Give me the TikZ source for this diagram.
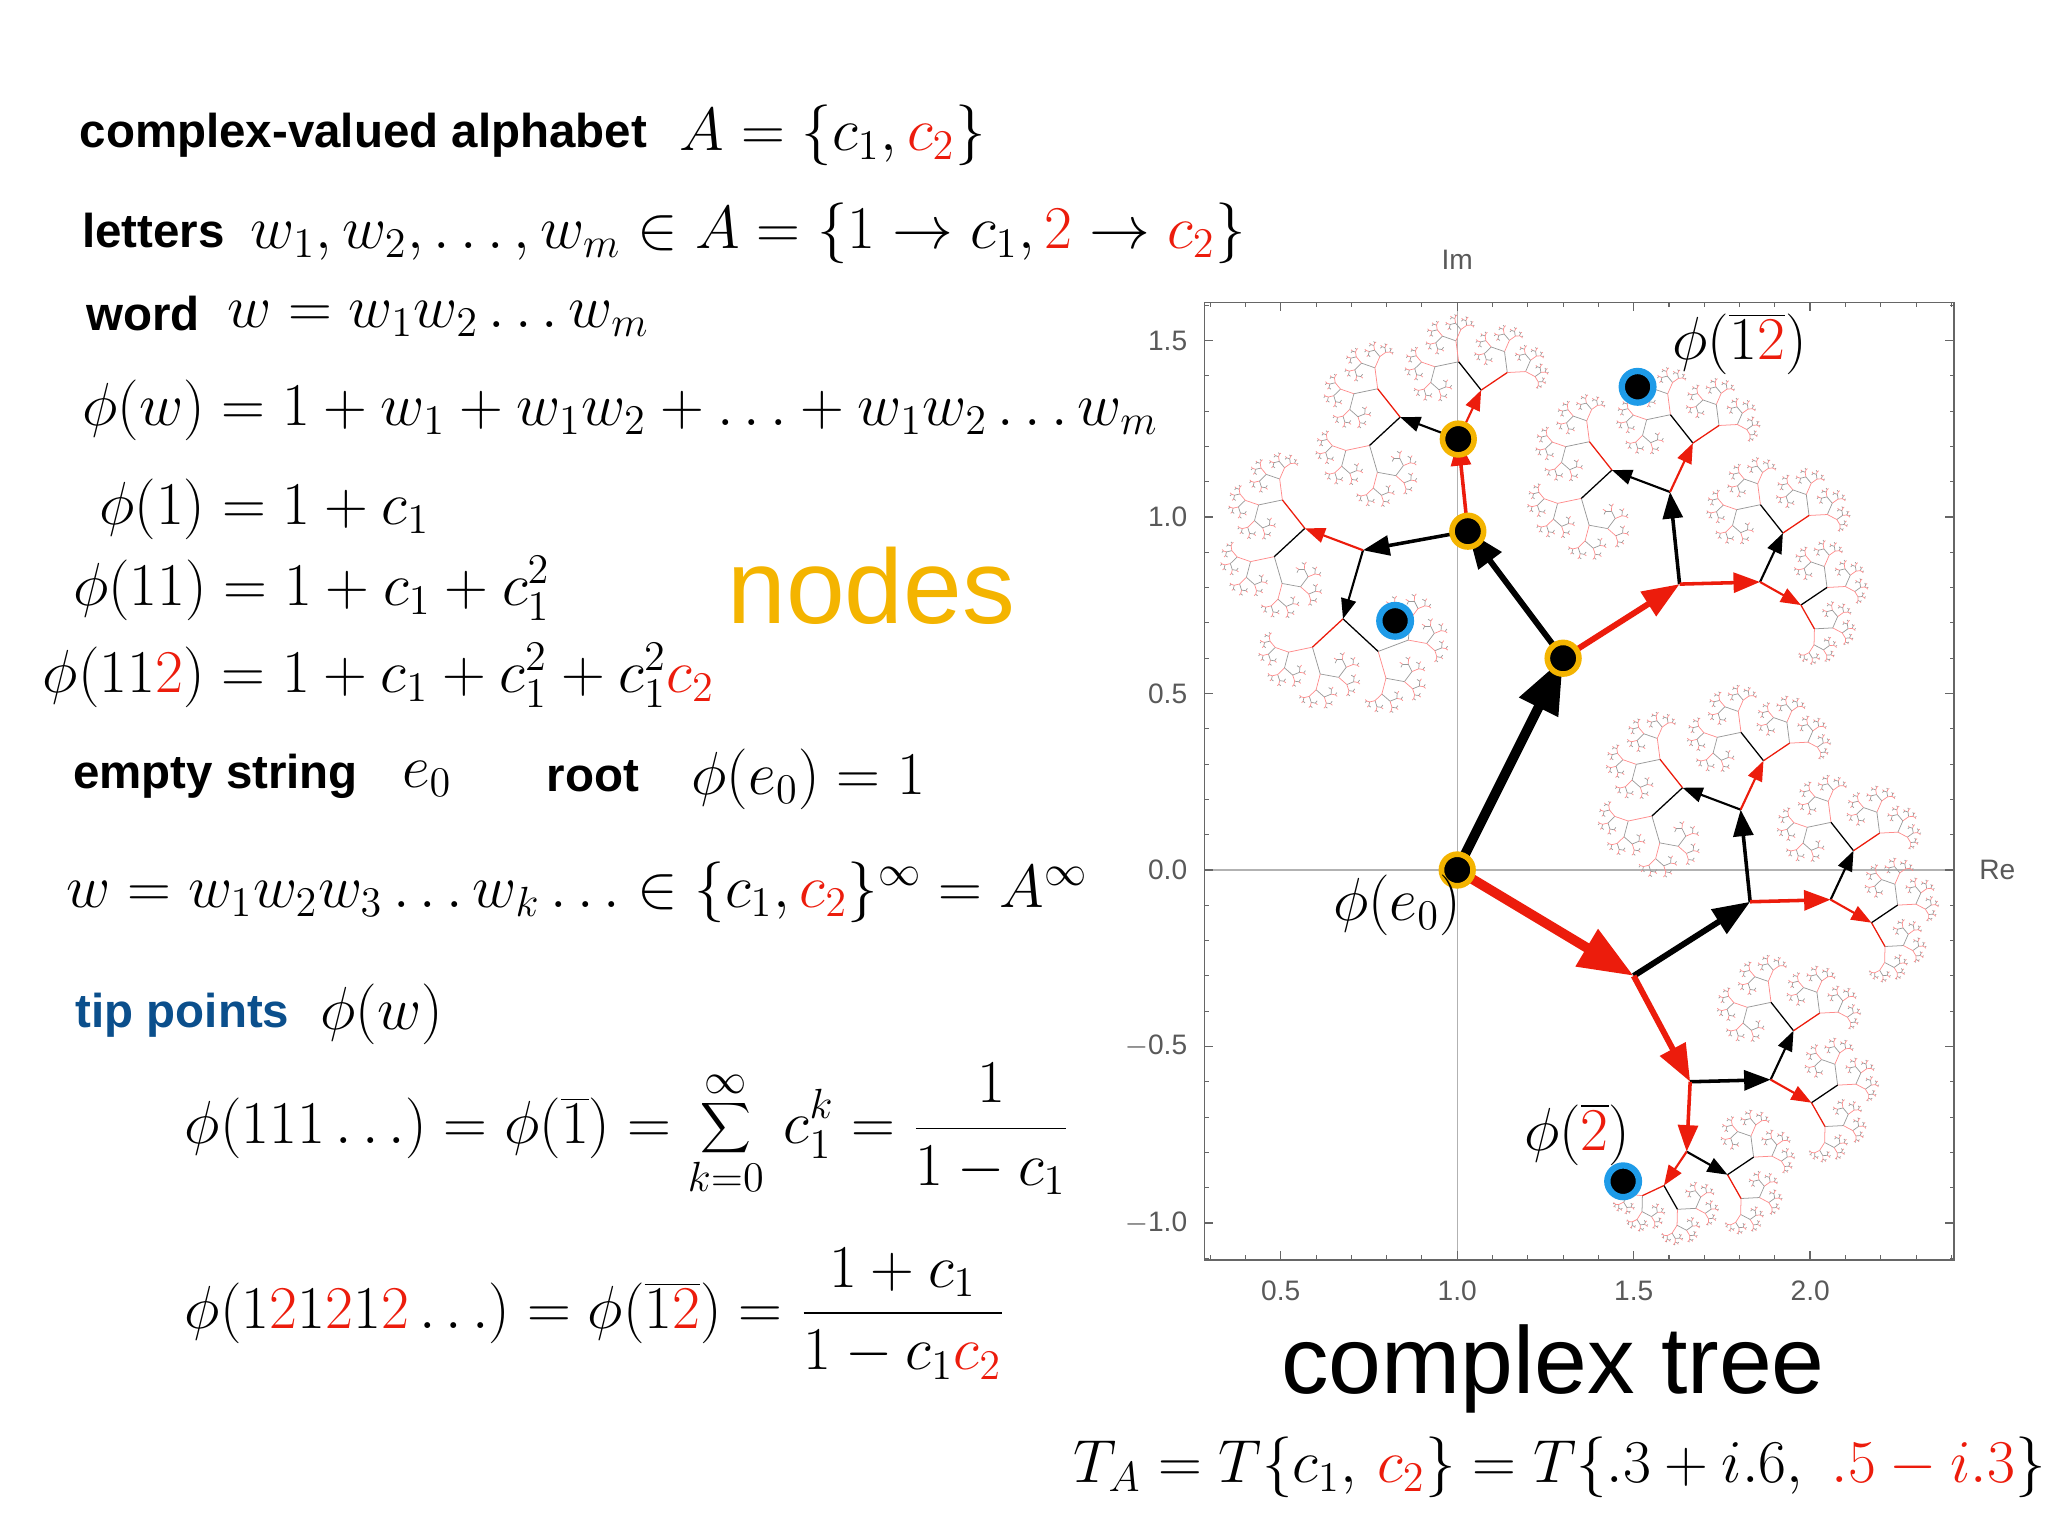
\documentclass[tikz,border=0pt]{standalone}
\usepackage{fontspec}
\setsansfont{Liberation Sans}
\usetikzlibrary{arrows.meta}
\definecolor{treered}{HTML}{EC1C0C}
\definecolor{nodeor}{HTML}{F4B400}
\definecolor{tipblue}{HTML}{0B4F8C}
\definecolor{dotblue}{HTML}{1E9BE8}
\newcommand\maxlev{11}
\newcommand\mybranch[5]{%
\ifnum#5<\maxlev\relax
\begingroup
\pgfmathsetmacro\pa{#3*0.3-#4*0.6}\pgfmathsetmacro\pb{#3*0.6+#4*0.3}%
\pgfmathsetmacro\qa{#3*0.5+#4*0.3}\pgfmathsetmacro\qb{-#3*0.3+#4*0.5}%
\pgfmathsetmacro\ax{#1+\pa}\pgfmathsetmacro\ay{#2+\pb}%
\pgfmathsetmacro\bx{#1+\qa}\pgfmathsetmacro\by{#2+\qb}%
\edef\next{\noexpand\mybranch{\ax}{\ay}{\pa}{\pb}{\the\numexpr#5+1\relax}\noexpand\mybranch{\bx}{\by}{\qa}{\qb}{\the\numexpr#5+1\relax}}%
\next
\ifnum#5>4 \def\kc{black!40}\def\rc{red!45}\else\def\kc{black}\def\rc{treered}\fi
\pgfmathsetmacro\lw{max(0.2,2.8*0.6^#5)}%
\ifnum#5<4 \def\arr{-{Stealth[inset=0pt]}}\else\def\arr{-}\fi
\draw[line width=\lw pt,\kc,\arr] (#1,#2) -- (\ax,\ay);
\draw[line width=\lw pt,\rc,\arr] (#1,#2) -- (\bx,\by);
\endgroup
\fi}
\begin{document}
\begin{tikzpicture}[x=0.01316cm,y=-0.01316cm,
  txt/.style={anchor=west,inner sep=0pt},
  lab/.style={font=\sffamily\bfseries\fontsize{13.5pt}{15pt}\selectfont},
  mth/.style={font=\fontsize{18pt}{20pt}\selectfont},
  tick/.style={font=\sffamily\fontsize{8pt}{9pt}\selectfont,text=black!65},
  nd/.style={circle,fill=black,draw=nodeor,line width=1.6pt,minimum size=9pt,inner sep=0pt},
  tp/.style={circle,fill=black,draw=dotblue,line width=1.8pt,minimum size=9pt,inner sep=0pt}]
\useasboundingbox (0,0) rectangle (1556,1167);
% left text
\node[txt,lab] (t1) at (60,103) {complex-valued alphabet};
\node[txt,mth] (t1m) at (516,103) {$A=\{c_1,\textcolor{treered}{c_2}\}$};
\node[txt,lab] (t2) at (62,175) {letters};
\node[txt,mth] (t2m) at (190,177) {$w_1,w_2,\dots,w_m\in A=\{1\to c_1,\textcolor{treered}{2}\to\textcolor{treered}{c_2}\}$};
\node[txt,lab] (t3) at (65,238) {word};
\node[txt,mth] (t3m) at (172,242) {$w=w_1w_2\dots w_m$};
\node[txt,mth] (t4) at (62,312) {$\phi(w)=1+w_1+w_1w_2+\ldots+w_1w_2\ldots w_m$};
\node[txt,mth] (t5) at (75,387) {$\phi(1)=1+c_1$};
\node[txt,mth] (t6) at (55,447) {$\phi(11)=1+c_1+c_1^2$};
\node[txt,mth] (t7) at (32,513) {$\phi(11\textcolor{treered}{2})=1+c_1+c_1^2+c_1^2\textcolor{treered}{c_2}$};
\node[txt,lab] (t8) at (55,590) {empty string};
\node[txt,mth] (t8m) at (305,592) {$e_0$};
\node[txt,lab] (t9) at (415,590) {root};
\node[txt,mth] (t9m) at (525,592) {$\phi(e_0)=1$};
\node[txt,mth] (t10) at (50,678) {$w=w_1w_2w_3\ldots w_k\ldots\in\{c_1,\textcolor{treered}{c_2}\}^\infty=A^\infty$};
\node[txt,lab,text=tipblue] (t11) at (57,771) {tip points};
\node[txt,mth] (t11m) at (243,771) {$\phi(w)$};
\node[txt,mth] (t12) at (140,858) {$\displaystyle\phi(111\ldots)=\phi(\overline{1})=\sum_{k=0}^{\infty}\,c_1^k=\frac{1}{1-c_1}$};
\node[txt,mth] (t13) at (140,998) {$\displaystyle\phi(1\textcolor{treered}{2}1\textcolor{treered}{2}1\textcolor{treered}{2}\ldots)=\phi(\overline{1\textcolor{treered}{2}})=\frac{1+c_1}{1-c_1\textcolor{treered}{c_2}}$};
\node[font=\sffamily\fontsize{30pt}{32pt}\selectfont,text=nodeor] (nodes) at (662,445) {nodes};
\node[font=\sffamily\fontsize{27pt}{30pt}\selectfont] (ct) at (1180,1040) {complex tree};
\node[font=\fontsize{17.5pt}{20pt}\selectfont] (ta) at (1185,1115) {$T_A=T\{c_1,\,\textcolor{treered}{c_2}\}=T\{.3+i.6,\ \textcolor{treered}{.5-i.3}\}$};
% plot
\begin{scope}[shift={(839,661)},x=3.527cm,y=3.527cm]
\draw[black!30,line width=0.4pt] (0.284,0)--(2.407,0) (1,-1.104)--(1,1.608);
\begin{scope}
\clip (0.284,-1.104) rectangle (2.407,1.608);
\mybranch{1}{0}{1}{0}{0}
\end{scope}
\draw[black!60,line width=0.5pt] (0.284,-1.104) rectangle (2.407,1.608);
\foreach \i in {3,...,24}{\draw[black!60,line width=0.3pt] (\i/10,-1.104)--++(0,0.012) (\i/10,1.608)--++(0,-0.012);}
\foreach \i in {-11,...,16}{\draw[black!60,line width=0.3pt] (0.284,\i/10)--++(0.012,0) (2.407,\i/10)--++(-0.012,0);}
\foreach \i in {0.5,1.0,1.5,2.0}{\draw[black!60,line width=0.4pt] (\i,-1.104)--++(0,0.025) (\i,1.608)--++(0,-0.025);
  \node[tick,below] at (\i,-1.13) {\i};}
\foreach \i/\l in {-1.0/$-$1.0,-0.5/$-$0.5,0.0/0.0,0.5/0.5,1.0/1.0,1.5/1.5}{\draw[black!60,line width=0.4pt] (0.284,\i)--++(0.025,0) (2.407,\i)--++(-0.025,0);
  \node[tick,left] at (0.27,\i) {\l};}
\node[tick] (im) at (1,1.73) {Im};
\node[tick] (re) at (2.53,0) {Re};
\node[nd] (n0) at (1,0) {};
\node[nd] (n1) at (1.3,0.6) {};
\node[nd] (n11) at (1.03,0.96) {};
\node[nd] (n112) at (1.003,1.221) {};
\node[tp] (p1) at (0.824,0.706) {};
\node[tp] (p2) at (1.47,-0.882) {};
\node[tp] (p12) at (1.511,1.369) {};
\node[mth] (l12) at (1.8,1.49) {$\phi(\overline{1\textcolor{treered}{2}})$};
\node[mth] (l0) at (0.83,-0.1) {$\phi(e_0)$};
\node[mth] (l2) at (1.34,-0.75) {$\phi(\overline{\textcolor{treered}{2}})$};
\end{scope}
\end{tikzpicture}
\end{document}
